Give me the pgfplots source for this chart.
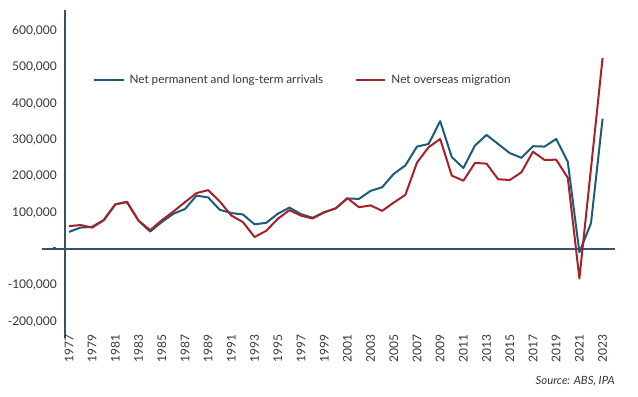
\documentclass[border=0pt]{standalone}
\usepackage{pgfplots}
\pgfplotsset{compat=1.18}
\usepackage{fontspec}
\setmainfont{Lato}
\definecolor{nblue}{HTML}{1D5B7C}
\definecolor{nred}{HTML}{A52229}
\definecolor{axc}{HTML}{3B5266}
\definecolor{txt}{HTML}{3A3532}
\pgfplotstableread{
year b r
1977 47000 63000
1978 59000 66000
1979 61000 59000
1980 80000 79000
1981 123000 123000
1982 129000 130000
1983 78000 78000
1984 48000 52000
1985 74000 79000
1986 97000 103000
1987 110000 129000
1988 147000 154000
1989 142000 162000
1990 108000 131000
1991 99000 92000
1992 95000 74000
1993 68000 33000
1994 72000 50000
1995 97000 83000
1996 114000 107000
1997 96000 92000
1998 86000 84000
1999 101000 101000
2000 112000 112000
2001 139000 140000
2002 138000 115000
2003 160000 120000
2004 170000 105000
2005 207000 128000
2006 230000 149000
2007 282000 238000
2008 289000 280000
2009 352000 303000
2010 253000 202000
2011 223000 188000
2012 285000 237000
2013 314000 235000
2014 289000 192000
2015 264000 190000
2016 251000 211000
2017 283000 268000
2018 282000 245000
2019 303000 246000
2020 240000 196000
2021 -9000 -81000
2022 71000 222000
2023 359000 526000
}\data
\begin{document}
\begin{tikzpicture}
\useasboundingbox (-48.75pt,-43.5pt) rectangle (429.75pt,253.5pt);
\begin{axis}[
  scale only axis, width=412.5pt, height=246pt,
  at={(0,0)}, anchor=south west,
  xmin=1976.66, xmax=2024.07, ymin=-245000, ymax=658000,
  axis lines=left,
  axis line style={-},
  x axis line style={draw=none},
  y axis line style={axc, line width=1.5pt},
  major tick length=0pt,
  clip=false,
  xtick={1977,1979,...,2023},
  xticklabels={1977,1979,1981,1983,1985,1987,1989,1991,1993,1995,1997,1999,2001,2003,2005,2007,2009,2011,2013,2015,2017,2019,2021,2023},
  ytick={-200000,-100000,0,100000,200000,300000,400000,500000,600000},
  yticklabels={{-200,000},{-100,000},{\raisebox{-2.5pt}{-}\hspace{1.5pt}},{100,000},{200,000},{300,000},{400,000},{500,000},{600,000}},
  tick label style={font=\fontsize{9}{11}\selectfont, text=txt},
  xticklabel style={yshift=3pt, rotate=90, anchor=east, inner sep=0pt},
  yticklabel style={anchor=east, inner sep=0pt, xshift=-6pt},
  legend columns=2,
  legend cell align=left,
  legend style={draw=none, fill=none, at={(0.0509,0.7866)}, anchor=west,
    inner sep=0pt, font=\fontsize{8.8}{11}\selectfont, text=txt,
    nodes={inner sep=0pt},
    /tikz/every odd column/.append style={column sep=3.75pt},
    /tikz/every even column/.append style={column sep=24pt}},
  legend image code/.code={\draw[#1] (0pt,0pt) -- (22pt,0pt);},
]
\draw[axc, line width=1.5pt] (axis cs:1974.67,0) -- (axis cs:2024.07,0);
\addplot[nblue, line width=1.5pt, line join=round] table[x=year,y=b]{\data};
\addlegendentry{Net permanent and long-term arrivals}
\addplot[nred, line width=1.5pt, line join=round] table[x=year,y=r]{\data};
\addlegendentry{Net overseas migration}
\node[anchor=east, font=\fontsize{8.5}{10}\selectfont\itshape, text=txt, inner sep=0pt] at (rel axis cs:1,-0.131) {Source: ABS, IPA};
\end{axis}
\end{tikzpicture}
\end{document}
